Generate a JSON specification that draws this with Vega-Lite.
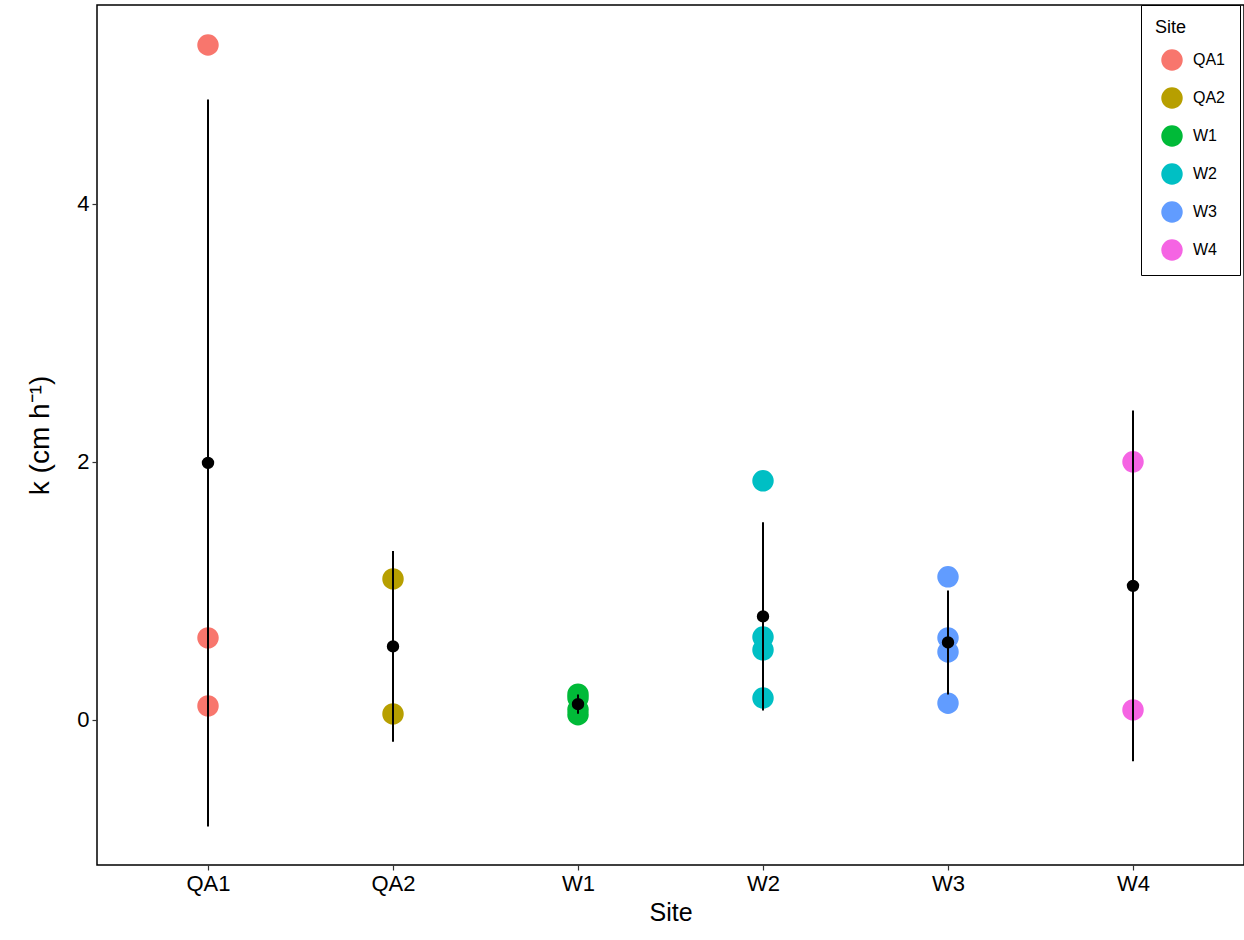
{
  "$schema": "https://vega.github.io/schema/vega-lite/v6.json",
  "width": 1147,
  "height": 860,
  "autosize": {"type": "none"},
  "padding": {"left": 97, "top": 5, "right": 0, "bottom": 75},
  "background": "white",
  "config": {
    "font": "Liberation Sans",
    "view": {"stroke": "black", "strokeWidth": 1.5},
    "axis": {"grid": false, "domain": false, "tickColor": "#333333", "tickSize": 5, "tickWidth": 1.2, "labelColor": "black", "labelFontSize": 22, "titleFontSize": 25, "titleFontWeight": "normal", "titleColor": "black", "labelPadding": 3}
  },
  "data": {
    "values": [
      {"Site": "QA1", "k": 5.23},
      {"Site": "QA1", "k": 0.636},
      {"Site": "QA1", "k": 0.109},
      {"Site": "QA2", "k": 1.093},
      {"Site": "QA2", "k": 0.047},
      {"Site": "W1", "k": 0.2},
      {"Site": "W1", "k": 0.17},
      {"Site": "W1", "k": 0.08},
      {"Site": "W1", "k": 0.04},
      {"Site": "W2", "k": 1.853},
      {"Site": "W2", "k": 0.643},
      {"Site": "W2", "k": 0.543},
      {"Site": "W2", "k": 0.17},
      {"Site": "W3", "k": 1.109},
      {"Site": "W3", "k": 0.636},
      {"Site": "W3", "k": 0.527},
      {"Site": "W3", "k": 0.13},
      {"Site": "W4", "k": 2.0},
      {"Site": "W4", "k": 0.078}
    ]
  },
  "encoding": {
    "x": {"field": "Site", "type": "nominal", "scale": {"type": "point", "padding": 0.6}, "axis": {"labelAngle": 0, "title": "Site", "titlePadding": 6}}
  },
  "layer": [
    {
      "mark": {"type": "circle", "size": 460, "opacity": 1},
      "encoding": {
        "y": {"field": "k", "type": "quantitative", "title": "k (cm h⁻¹)", "scale": {"domain": [-1.124, 5.54], "nice": false, "zero": false}, "axis": {"values": [0, 2, 4], "format": "d", "titlePadding": 22, "titleFontSize": 28}},
        "color": {
          "field": "Site", "type": "nominal",
          "scale": {"domain": ["QA1", "QA2", "W1", "W2", "W3", "W4"], "range": ["#F8766D", "#B79F00", "#00BA38", "#00BFC4", "#619CFF", "#F564E3"]},
          "legend": {
            "title": "Site", "orient": "none", "legendX": 1044, "legendY": 0,
            "strokeColor": "black", "fillColor": "white", "padding": 14,
            "titleFontSize": 18, "titleFontWeight": "normal", "titleColor": "black", "titlePadding": 12,
            "labelFontSize": 16, "labelColor": "black", "labelOffset": 10,
            "symbolSize": 460, "symbolType": "circle", "symbolStrokeWidth": 0, "symbolOpacity": 1,
            "symbolOffset": 6, "rowPadding": 16
          }
        }
      }
    },
    {
      "mark": {"type": "errorbar", "extent": "stdev", "rule": {"strokeWidth": 2, "color": "black"}},
      "encoding": {
        "y": {"field": "k", "type": "quantitative", "title": "k (cm h⁻¹)"}
      }
    },
    {
      "mark": {"type": "circle", "size": 154, "opacity": 1, "color": "black"},
      "encoding": {
        "y": {"field": "k", "type": "quantitative", "aggregate": "mean", "title": "k (cm h⁻¹)"}
      }
    }
  ]
}
